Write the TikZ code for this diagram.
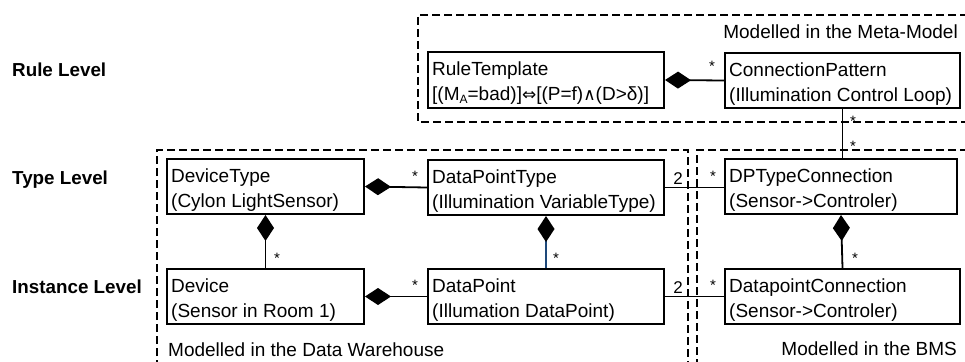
\documentclass[tikz,border=0pt]{standalone}
\usepackage{fontspec}
\setmainfont{Liberation Sans}
\newfontfamily\symfont{DejaVu Sans}
\usetikzlibrary{arrows.meta}
\definecolor{linkblue}{RGB}{30,72,122}
\newcommand\mkbox[7]{%
  \node[umlbox, minimum width={#4-#2}, minimum height={#5-#3}] (#1) at (#2,#3) {};
  \node[boxtext] (#1-a) at (#2+5,#3+24) {#6};
  \node[boxtext] (#1-b) at (#2+5,#3+49) {#7};
}
\begin{document}
\begin{tikzpicture}[x=1pt,y=-1pt,
  umlbox/.style={draw, line width=2pt, inner sep=0pt, anchor=north west},
  boxtext/.style={anchor=base west, inner sep=0pt, font=\fontsize{19}{25}\selectfont},
  conn/.style={line width=1.8pt},
  comp/.style={conn, {Diamond[length=26pt,width=17pt,color=black]}-},
  mult/.style={anchor=base, inner sep=0pt, font=\fontsize{15}{15}\selectfont},
  multnum/.style={anchor=base, inner sep=0pt, font=\fontsize{17}{17}\selectfont},
  region/.style={draw, line width=2pt, dash pattern=on 8pt off 4pt},
  regtext/.style={inner sep=0pt, font=\fontsize{19}{23}\selectfont},
  level/.style={anchor=base west, inner sep=0pt, font=\fontsize{18.8}{22}\selectfont\bfseries}]
\useasboundingbox (0,0) rectangle (965,361);
\clip (0,0) rectangle (965,361);

% regions
\draw[region] (980,15) -- (418,15) -- (418,122) -- (980,122);
\draw[region] (157,380) -- (157,150) -- (688,150) -- (688,380);
\draw[region] (980,150) -- (697,150) -- (697,380);

\node[regtext, anchor=base east] (tmeta) at (958,39) {Modelled in the Meta-Model};
\node[regtext, anchor=base west] (tdw) at (168,356) {Modelled in the Data Warehouse};
\node[regtext, anchor=base east] (tbms) at (957,355) {Modelled in the BMS};

% level labels
\node[level] (lrule) at (12,76) {Rule Level};
\node[level] (ltype) at (12,184) {Type Level};
\node[level] (linst) at (12,293) {Instance Level};

% boxes
\mkbox{rt}{427}{51}{663}{107}{RuleTemplate}{[(M{\fontsize{12}{12}\selectfont\raisebox{-3pt}{A}}=bad)]{\symfont\fontsize{17}{17}\selectfont ⇔}[(P=f){\symfont\fontsize{17}{17}\selectfont ∧}(D>δ)]}
\mkbox{cp}{724}{52}{959}{107}{ConnectionPattern}{(Illumination Control Loop)}
\mkbox{dt}{166}{158}{363}{213}{DeviceType}{(Cylon LightSensor)}
\mkbox{dpt}{427}{159}{663}{214}{DataPointType}{(Illumination VariableType)}
\mkbox{dptc}{724}{158}{956}{213}{DPTypeConnection}{(Sensor->Controler)}
\mkbox{dev}{166}{268}{363}{323}{Device}{(Sensor in Room 1)}
\mkbox{dp}{427}{268}{663}{323}{DataPoint}{(Illumation DataPoint)}
\mkbox{dpc}{724}{268}{959}{323}{DatapointConnection}{(Sensor->Controler)}

% connectors
\draw[comp] (rt.east) -- (cp.west);
\draw[comp] (dt.east) -- (dpt.west);
\draw[comp] (dev.east) -- (dp.west);
\draw[comp] (dt.south) -- (dev.north);
\draw[comp, draw=linkblue] (dpt.south) -- (dp.north);
\draw[comp] (dptc.south) -- (dpc.north);
\draw[conn] (cp.south) -- (cp.south |- dptc.north);
\draw[conn] (dpt.east) -- (dpt.east -| dptc.west);
\draw[conn] (dp.east) -- (dp.east -| dpc.west);

% multiplicities
\node[mult] (m1) at (712,71.5) {*};
\node[mult] (m2) at (853,126.5) {*};
\node[mult] (m3) at (853,151.5) {*};
\node[mult] (m4) at (415,181.5) {*};
\node[mult] (m5) at (277,263.5) {*};
\node[mult] (m6) at (415,290.5) {*};
\node[mult] (m7) at (556,263.5) {*};
\node[multnum] (m8) at (678,184) {2};
\node[mult] (m9) at (713,181.5) {*};
\node[multnum] (m10) at (678,293) {2};
\node[mult] (m11) at (713,290.5) {*};
\node[mult] (m12) at (855,263.5) {*};
\end{tikzpicture}
\end{document}
